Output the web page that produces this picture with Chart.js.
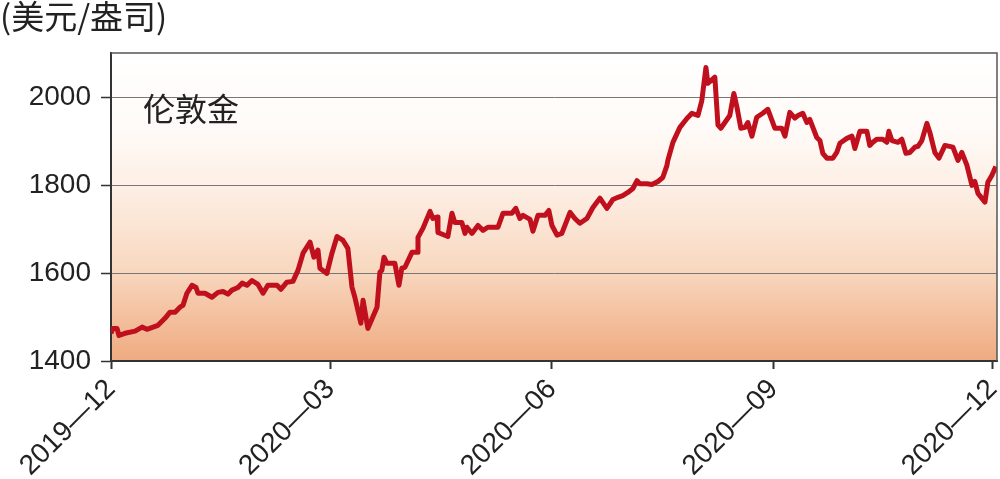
<!DOCTYPE html>
<html>
<head>
<meta charset="utf-8">
<script src="https://cdn.jsdelivr.net/npm/chart.js@4/dist/chart.umd.min.js"></script>
<style>
  html, body { margin: 0; padding: 0; background: #fff; }
</style>
</head>
<body>
<canvas id="grafico" width="1000" height="479"></canvas>
<script>
// dias desde 2019-12-01
const dias = [0, 0.8, 2.5, 3.3, 5.8, 10, 12.9, 14.9, 19.5, 22.4,
  24.5, 26.6, 28.6, 29.9, 31.5, 33.6, 35.3, 36.1, 39, 41.9,
  44.4, 46.5, 48.5, 50.2, 52.7, 54.4, 56.4, 58.5, 61, 63.1,
  65.1, 68.9, 70.5, 73, 75.5, 77.6, 79.7, 82.6, 84.2, 85.9,
  86.7, 89.6, 91.7, 93.8, 96.3, 98.3, 100, 101.2, 103.7, 104.6,
  106.6, 110.4, 111.6, 112.4, 113.3, 114.5, 117.8, 119.5, 120.7, 122,
  124.9, 127, 127.4, 129.5, 132.4, 133.6, 135.3, 135.7, 139.8, 141.5,
  142.7, 145.6, 146.9, 147.7, 149.8, 152.3, 154.4, 156.4, 160.6, 162.7,
  166.4, 168, 169.7, 171, 173.9, 175.1, 177.2, 180.1, 181.7, 183,
  185.1, 187.1, 190.5, 192.5, 194.6, 197.5, 200, 202.9, 205.8, 208.3,
  210.4, 212.4, 214.5, 216.6, 218.3, 219.5, 222.4, 224.5, 227, 229,
  230.7, 231.1, 233.2, 236.1, 239, 241.1, 243.6, 245.2, 246.9, 247.7,
  250.6, 251.9, 253.1, 256.8, 258.5, 259.8, 261.4, 263.1, 264.3, 266,
  268, 270.5, 272.6, 275.5, 278.4, 279.7, 281.7, 283.8, 285.1, 287.1,
  288.8, 290, 292.9, 294.2, 295.4, 297.1, 299.6, 301.2, 302.5, 305.4,
  307.5, 308.7, 310.8, 313.7, 314.9, 316.2, 317.8, 320.3, 322, 322.8,
  324.1, 326.6, 328.2, 329.9, 331.5, 333.6, 334.9, 336.5, 338.6, 339.8,
  341.9, 343.6, 346.1, 349.4, 351.5, 353.1, 355.2, 357.3, 358.5, 359.8,
  362.7, 363.9, 365.6, 367.2];

const precios = [1463, 1474, 1474, 1458, 1463, 1468, 1477, 1472, 1481, 1497,
  1511, 1511, 1522, 1527, 1554, 1572, 1567, 1554, 1554, 1545,
  1556, 1558, 1552, 1561, 1567, 1577, 1572, 1583, 1574, 1554,
  1572, 1572, 1563, 1579, 1581, 1606, 1645, 1670, 1636, 1652,
  1611, 1599, 1645, 1683, 1674, 1656, 1568, 1545, 1486, 1538,
  1474, 1522, 1602, 1606, 1636, 1622, 1622, 1572, 1611, 1613,
  1647, 1647, 1681, 1702, 1740, 1724, 1727, 1692, 1683, 1736,
  1715, 1715, 1690, 1704, 1690, 1708, 1697, 1704, 1704, 1736,
  1736, 1747, 1724, 1731, 1722, 1695, 1731, 1731, 1742, 1708,
  1686, 1690, 1738, 1724, 1713, 1724, 1749, 1770, 1747, 1767,
  1772, 1776, 1783, 1792, 1810, 1803, 1803, 1801, 1808, 1817,
  1844, 1856, 1897, 1931, 1951, 1963, 1958, 1992, 2067, 2031,
  2045, 1936, 1929, 1958, 2008, 1976, 1929, 1931, 1942, 1911,
  1954, 1963, 1972, 1929, 1929, 1911, 1965, 1952, 1958, 1963,
  1942, 1949, 1908, 1901, 1872, 1861, 1861, 1874, 1895, 1906,
  1911, 1883, 1922, 1922, 1890, 1897, 1904, 1904, 1897, 1922,
  1901, 1897, 1904, 1872, 1874, 1886, 1888, 1901, 1940, 1920,
  1874, 1861, 1890, 1886, 1856, 1874, 1845, 1799, 1808, 1781,
  1761, 1806, 1822, 1842];

const diasMes = [0, 91, 183, 275, 366];
const etiquetasMes = ["2019—12", "2020—03", "2020—06", "2020—09", "2020—12"];
const ticksY = [1400, 1600, 1800, 2000];

const fuenteNum = "'Liberation Sans', Arial, sans-serif";
const fuenteCJK = "'Noto Sans CJK SC', sans-serif";

const fondo = {
  id: "fondo",
  beforeDraw(chart) {
    const { ctx, chartArea: a } = chart;
    const g = ctx.createLinearGradient(0, a.top, 0, a.bottom);
    g.addColorStop(0, "#ffffff");
    g.addColorStop(0.25, "#fffaf7");
    g.addColorStop(0.45, "#fdeee3");
    g.addColorStop(0.7, "#f8d8c0");
    g.addColorStop(1, "#efaa80");
    ctx.save();
    ctx.fillStyle = g;
    ctx.fillRect(a.left, a.top, a.right - a.left, a.bottom - a.top);
    ctx.restore();
  },
  afterDraw(chart) {
    const { ctx, chartArea: a } = chart;
    ctx.save();
    ctx.strokeStyle = "#555";
    ctx.lineWidth = 1.5;
    ctx.beginPath();
    ctx.moveTo(a.left, a.top);
    ctx.lineTo(a.right, a.top);
    ctx.lineTo(a.right, a.bottom);
    ctx.stroke();
    ctx.fillStyle = "#222";
    ctx.font = "32px " + fuenteCJK;
    ctx.textBaseline = "middle";
    ctx.fillText("伦敦金", a.left + 32, a.top + 56);
    ctx.restore();
  }
};

new Chart(document.getElementById("grafico"), {
  type: "line",
  data: {
    datasets: [{
      label: "伦敦金",
      data: dias.map((d, i) => ({ x: d, y: precios[i] })),
      borderColor: "#c0101e",
      borderWidth: 5,
      borderJoinStyle: "round",
      pointRadius: 0,
      tension: 0
    }]
  },
  options: {
    responsive: false,
    animation: false,
    layout: { padding: { left: 0, right: 3, top: 0, bottom: 0 } },
    plugins: {
      legend: { display: false },
      tooltip: { enabled: false },
      title: {
        display: true,
        text: "(美元/盎司)",
        align: "start",
        color: "#222",
        font: { family: fuenteCJK, size: 33, weight: "normal", lineHeight: 1 },
        padding: { top: 0, bottom: 20 }
      }
    },
    scales: {
      x: {
        type: "linear",
        min: 0,
        max: 367.7,
        afterBuildTicks: s => { s.ticks = diasMes.map(v => ({ value: v })); },
        afterFit: s => { s.height = 118; s.paddingLeft = 0; s.paddingRight = 0; },
        ticks: {
          autoSkip: false,
          minRotation: 45,
          maxRotation: 45,
          padding: 4,
          color: "#222",
          font: { family: fuenteNum, size: 28 },
          callback: (v) => etiquetasMes[diasMes.indexOf(v)]
        },
        grid: { drawOnChartArea: false, drawTicks: true, tickLength: 8, tickColor: "#333", tickWidth: 2 },
        border: { display: true, color: "#333", width: 2 }
      },
      y: {
        min: 1400,
        max: 2100,
        afterBuildTicks: s => { s.ticks = ticksY.map(v => ({ value: v })); },
        afterFit: s => { s.width = 111; s.paddingTop = 0; s.paddingBottom = 0; },
        ticks: {
          padding: 10,
          color: "#222",
          font: { family: fuenteNum, size: 28 },
          callback: v => String(v)
        },
        grid: { color: "#777", lineWidth: 1, drawTicks: true, tickLength: 10, tickColor: "#333", tickWidth: 1.5 },
        border: { display: true, color: "#333", width: 2 }
      }
    }
  },
  plugins: [fondo]
});
</script>
</body>
</html>
